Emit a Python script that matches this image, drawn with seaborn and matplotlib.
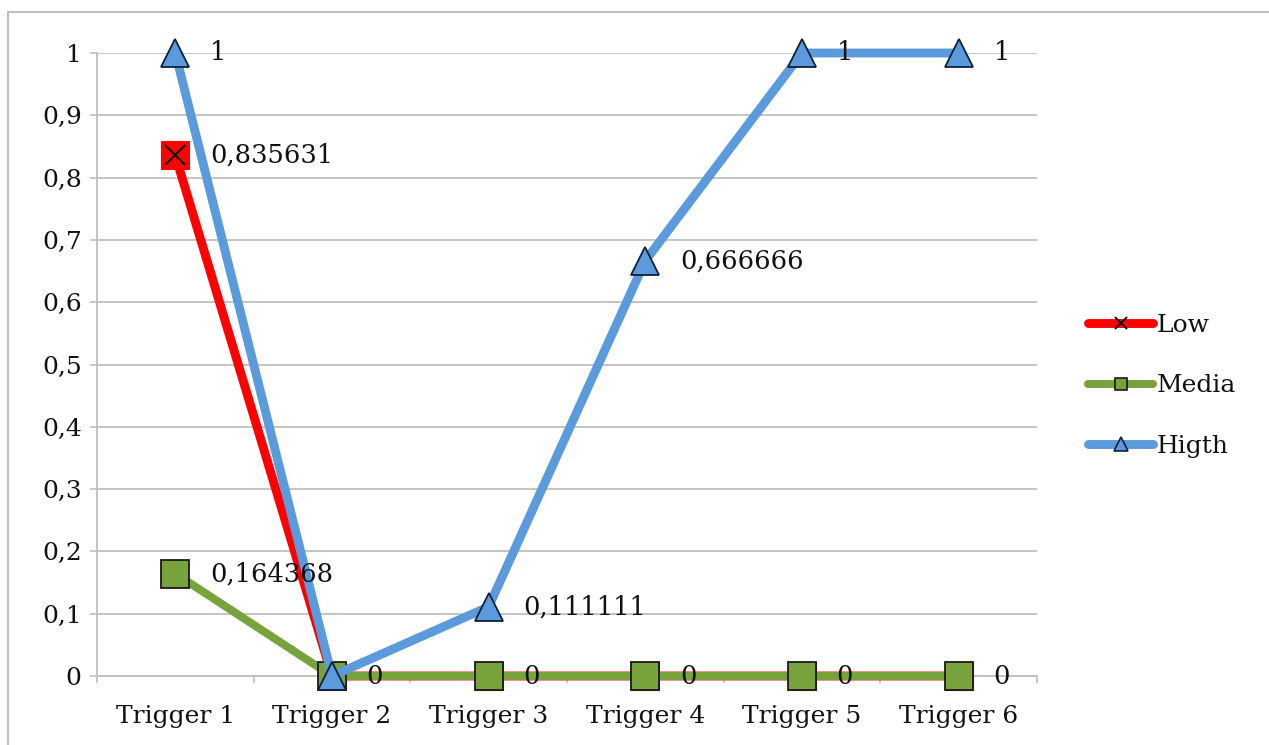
import matplotlib
matplotlib.use("Agg")
import numpy as np
import pandas as pd
import matplotlib.pyplot as plt
import seaborn as sns
from matplotlib.lines import Line2D
from matplotlib.patches import Rectangle
from matplotlib.ticker import FixedLocator

# ---- data ----
categories = ["Trigger 1", "Trigger 2", "Trigger 3", "Trigger 4", "Trigger 5", "Trigger 6"]
low = [0.835631, 0, 0, 0, 0, 0]
media = [0.164368, 0, 0, 0, 0, 0]
higth = [1, 0, 0.111111, 0.666666, 1, 1]
series_names = ["Low", "Media", "Higth"]
y_ticks = [0, 0.1, 0.2, 0.3, 0.4, 0.5, 0.6, 0.7, 0.8, 0.9, 1]

# ---- style ----
RED = "#FF0000"
GREEN = "#77A23C"
BLUE = "#5B9BDB"
GRID = "#BFBFBF"
TXT = "#111111"

sns.set_theme(style="white")
plt.rcParams["font.family"] = ["DejaVu Serif", "DejaVu Sans"]
FS = 18
LFS = 18.5

W, H = 1269, 745
fig = plt.figure(figsize=(W / 100, H / 100), dpi=100)
ax = fig.add_axes([97 / W, 1 - 676 / H, (1037 - 97) / W, (676 - 53) / H])

xpos = np.arange(len(categories))
df = pd.DataFrame({"x": xpos, "Low": low, "Media": media, "Higth": higth})

# Low line (red square + black x)
sns.lineplot(data=df, x="x", y="Low", ax=ax, color=RED, lw=6.4, marker="s",
             markersize=20, markerfacecolor=RED, markeredgecolor=RED,
             markeredgewidth=0.8, clip_on=False, zorder=3)
sns.lineplot(data=df, x="x", y="Low", ax=ax, color="black", linestyle="",
             marker="x", markersize=15, markeredgecolor="black",
             markeredgewidth=1.4, clip_on=False, zorder=3.1)
# Media line
sns.lineplot(data=df, x="x", y="Media", ax=ax, color=GREEN, lw=5.8, marker="s",
             markersize=19.5, markerfacecolor=GREEN, markeredgecolor="#1a1a1a",
             markeredgewidth=1.3, clip_on=False, zorder=4)
# Higth line
sns.lineplot(data=df, x="x", y="Higth", ax=ax, color=BLUE, lw=6.4, marker="^",
             markersize=20.5, markerfacecolor=BLUE, markeredgecolor="#10203a",
             markeredgewidth=1.3, clip_on=False, zorder=5)

# data labels (one per unique position)
seen = set()
for vals in (higth, low, media):
    for i, v in enumerate(vals):
        key = (i, round(v, 6))
        if key in seen:
            continue
        seen.add(key)
        ax.annotate(f"{v:g}".replace(".", ","), (i, v), xytext=(25, 0),
                    textcoords="offset points", ha="left", va="center",
                    fontsize=LFS, color=TXT, zorder=6, annotation_clip=False)

# axes
ax.set_xlim(-0.5, len(categories) - 0.5)
ax.set_ylim(0, 1)
ax.set_xticks(xpos)
ax.set_xticklabels(categories, fontsize=FS, color=TXT)
ax.set_yticks(y_ticks)
ax.set_yticklabels([f"{v:g}".replace(".", ",") for v in y_ticks], fontsize=FS, color=TXT)
ax.set_xlabel("")
ax.set_ylabel("")
ax.xaxis.set_minor_locator(FixedLocator(np.arange(-0.5, len(categories), 1.0)))
ax.tick_params(axis="x", which="major", length=0, pad=21)
ax.tick_params(axis="x", which="minor", bottom=True, length=5, width=1.2, color=GRID, direction="out")
ax.tick_params(axis="y", which="major", left=True, length=5, width=1.2, color=GRID, direction="out", pad=6)
ax.yaxis.grid(True, color=GRID, lw=1.3)
ax.set_axisbelow(True)
for s in ("top", "right"):
    ax.spines[s].set_visible(False)
for s in ("left", "bottom"):
    ax.spines[s].set_color(GRID)
    ax.spines[s].set_linewidth(1.3)

# legend
handles = [
    Line2D([], [], color=RED, lw=6.4, marker="x", markersize=9, markeredgecolor="black", markeredgewidth=1.3),
    Line2D([], [], color=GREEN, lw=5.8, marker="s", markersize=9, markerfacecolor=GREEN, markeredgecolor="#1a1a1a", markeredgewidth=1.2),
    Line2D([], [], color=BLUE, lw=6.4, marker="^", markersize=10, markerfacecolor=BLUE, markeredgecolor="#10203a", markeredgewidth=1.2),
]
leg = fig.legend(handles, series_names, loc="center left",
                 bbox_to_anchor=(1088 / W, 1 - 386 / H), bbox_transform=fig.transFigure,
                 frameon=False, fontsize=FS, handlelength=2.6, handletextpad=0.15,
                 labelspacing=1.5, borderpad=0, borderaxespad=0)
for t in leg.get_texts():
    t.set_color(TXT)

# outer chart border
fig.add_artist(Rectangle((8 / W, -0.1), 1.2, (1 - 12 / H) + 0.1, transform=fig.transFigure,
                         fill=False, edgecolor=GRID, lw=1.5))

fig.savefig("out.png", dpi=100)
